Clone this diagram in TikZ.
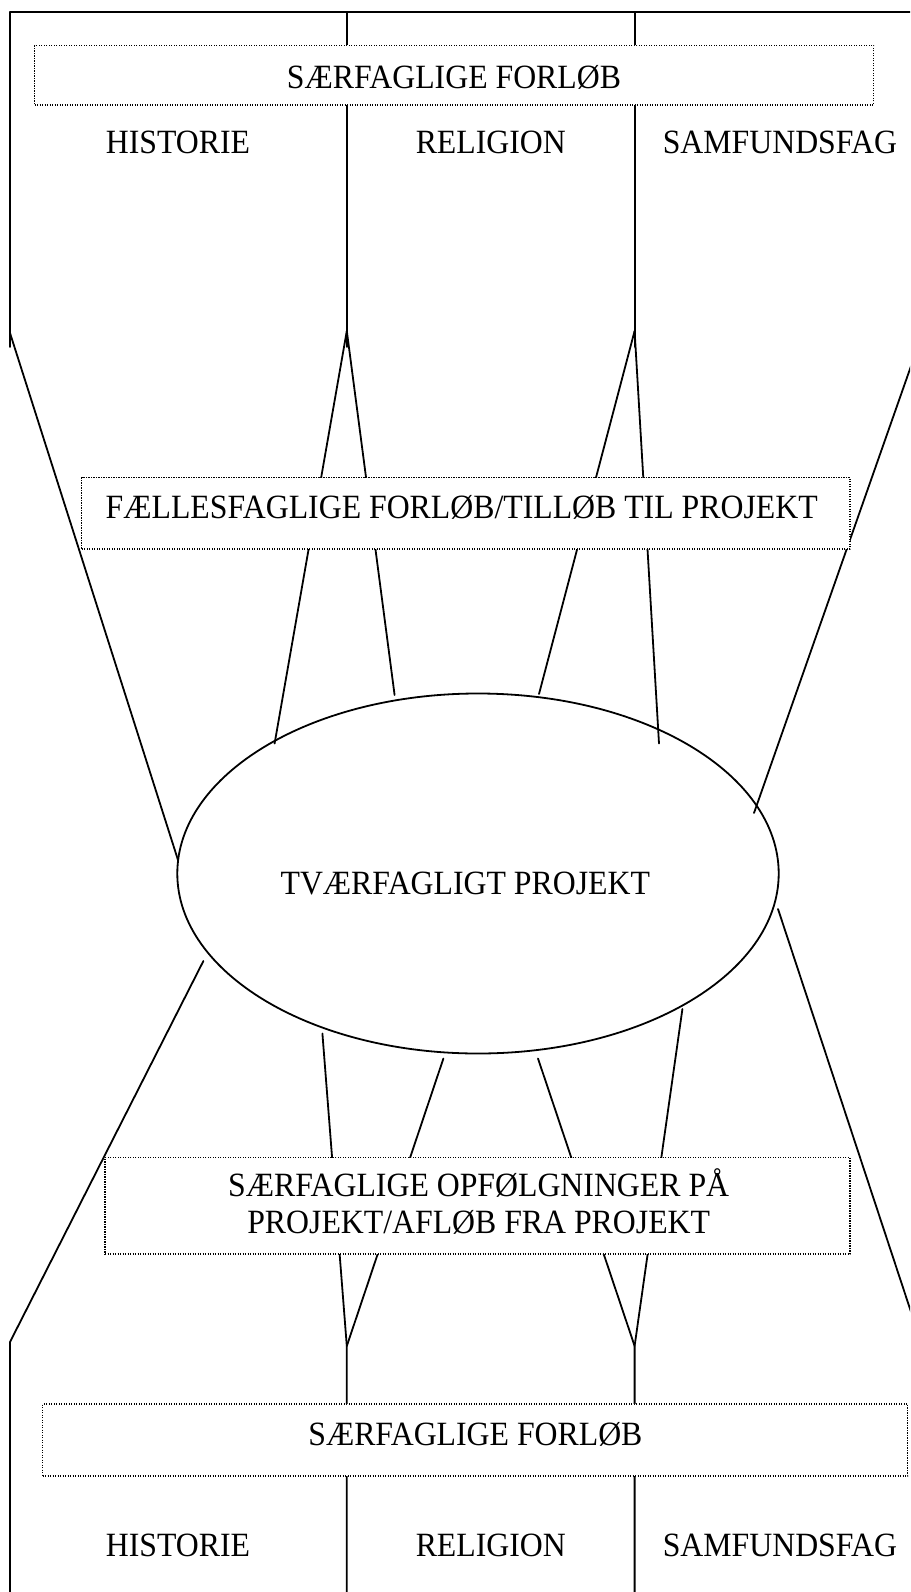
\documentclass[tikz,border=0pt]{standalone}
\usepackage{fontspec}
\setmainfont{Liberation Serif}[FakeStretch=0.935]
\usetikzlibrary{shapes.geometric}

\begin{document}
\begin{tikzpicture}[line cap=round,line join=round,x=1pt,y=-1pt,
	streg/.style={line width=1.8pt},
	boks/.style={draw,fill=white,line width=1.2pt,line cap=butt,dash pattern=on 1.2pt off 1.3pt,inner sep=0pt},
	tekst/.style={font=\fontsize{34}{37}\selectfont,inner sep=0pt,anchor=base}]
	\useasboundingbox (0,0) rectangle (910,1592);
	\clip (0,0) rectangle (910,1592);
	% ramme og fag foroven
	\coordinate (vo) at (10,12);
	\coordinate (ho) at (920,12);
	\coordinate (m1o) at (346.8,12);
	\coordinate (m2o) at (634.6,12);
	\coordinate (vn) at (10,347);
	\coordinate (m1n) at (346.8,347);
	\coordinate (m2n) at (634.6,347);
	\coordinate (jv) at (10,333);
	\coordinate (j1) at (346.8,331);
	\coordinate (j2) at (634.6,331);
	\coordinate (jh) at (917,349);
	\draw [streg] (vo) -- (ho);
	\draw [streg] (vo) -- (vn);
	\draw [streg] (m1o) -- (m1n);
	\draw [streg] (m2o) -- (m2n);
	% ender ved projektet
	\coordinate (pv) at (178,860);
	\coordinate (p1a) at (274.6,743.5);
	\coordinate (p1b) at (394.6,695);
	\coordinate (p2a) at (539,694);
	\coordinate (p2b) at (659,743.5);
	\coordinate (ph) at (754,813);
	\draw [streg] (jv) -- (pv);
	\draw [streg] (j1) -- (p1a);
	\draw [streg] (j1) -- (p1b);
	\draw [streg] (j2) -- (p2a);
	\draw [streg] (j2) -- (p2b);
	\draw [streg] (jh) -- (ph);
	% fra projektet og ned
	\coordinate (qv) at (203.4,961);
	\coordinate (q1a) at (322.4,1033.5);
	\coordinate (q1b) at (443.4,1058.5);
	\coordinate (q2a) at (538,1058.5);
	\coordinate (q2b) at (682.4,1009);
	\coordinate (qh) at (778,909);
	\coordinate (kv) at (10,1342);
	\coordinate (k1) at (346.8,1346);
	\coordinate (k2) at (634.6,1346);
	\coordinate (kh) at (917,1330);
	\coordinate (vb) at (10,1600);
	\coordinate (m1b) at (346.8,1600);
	\coordinate (m2b) at (634.6,1600);
	\draw [streg] (qv) -- (kv) -- (vb);
	\draw [streg] (q1a) -- (k1);
	\draw [streg] (q1b) -- (k1) -- (m1b);
	\draw [streg] (q2a) -- (k2);
	\draw [streg] (q2b) -- (k2) -- (m2b);
	\draw [streg] (qh) -- (kh);
	% kasser
	\node [boks,minimum width=839,minimum height=59.5] (saertop) at (454.2,75.2) {};
	\node [tekst] (saertoptekst) at (454,88.5) {SÆRFAGLIGE FORLØB};
	\node [boks,minimum width=768.3,minimum height=71.3] (faelles) at (465.9,513.4) {};
	\node [tekst] (faellestekst) at (461.7,518) {FÆLLESFAGLIGE FORLØB/TILLØB TIL PROJEKT};
	\node [boks,minimum width=745,minimum height=96.3] (opfoelg) at (477.5,1205.9) {};
	\node [tekst,anchor=center,align=center] (opfoelgtekst) at (478.7,1202) {SÆRFAGLIGE OPFØLGNINGER PÅ\\PROJEKT/AFLØB FRA PROJEKT};
	\node [boks,minimum width=865,minimum height=72] (saerbund) at (475.2,1440) {};
	\node [tekst] (saerbundtekst) at (475.4,1445) {SÆRFAGLIGE FORLØB};
	% projektet
	\node [draw,ellipse,line width=1.8pt,minimum width=601.4,minimum height=360,inner sep=0pt] (projekt) at (478,873.5) {};
	\node [tekst] (projekttekst) at (465.3,894) {TVÆRFAGLIGT PROJEKT};
	% fagene
	\node [tekst] (histtop) at (178,153.5) {HISTORIE};
	\node [tekst] (reltop) at (490.8,153.5) {RELIGION};
	\node [tekst] (samtop) at (780,153.5) {SAMFUNDSFAG};
	\node [tekst] (histbund) at (178,1556) {HISTORIE};
	\node [tekst] (relbund) at (490.8,1556) {RELIGION};
	\node [tekst] (sambund) at (780,1556) {SAMFUNDSFAG};
\end{tikzpicture}
\end{document}
